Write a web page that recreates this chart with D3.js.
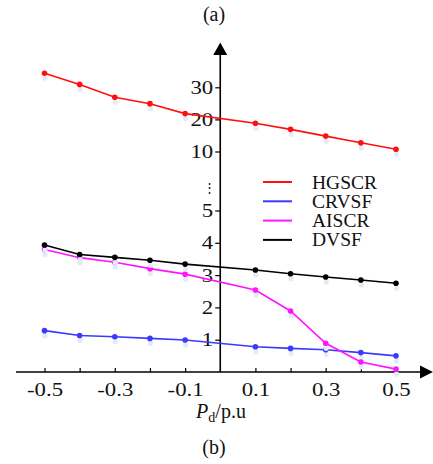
<!doctype html>
<html lang="en">
<head>
<meta charset="utf-8">
<title>Pd chart</title>
<style>
  body { margin: 0; background: #fff; }
  svg { display: block; }
  text { font-family: "Liberation Serif", "Times New Roman", serif; fill: #111; }
</style>
</head>
<body>
<svg id="chart" width="433" height="464"></svg>
<script src="https://d3js.org/d3.v7.min.js"></script>
<script>
// data (no point at Pd = 0)
const pd = [-0.5, -0.4, -0.3, -0.2, -0.1, 0.1, 0.2, 0.3, 0.4, 0.5];
const hgscr = [34.4, 30.9, 26.9, 24.9, 21.8, 18.8, 16.9, 14.8, 12.7, 10.7];
const crvsf = [1.28, 1.13, 1.09, 1.04, 0.99, 0.78, 0.73, 0.69, 0.60, 0.50];
const aiscr = [3.79, 3.54, 3.40, 3.20, 3.03, 2.54, 1.89, 0.89, 0.31, 0.09];
const dvsf = [3.93, 3.64, 3.55, 3.46, 3.34, 3.16, 3.04, 2.94, 2.85, 2.75];

const seriesNames = ['HGSCR', 'CRVSF', 'AISCR', 'DVSF'];
const seriesColors = ['#ff1010', '#3a3aff', '#ff14ff', '#000000'];
const seriesValues = [hgscr, crvsf, aiscr, dvsf];

const yTicks = [1, 2, 3, 4, 5, 10, 20, 30];
const xTicks = [-0.5, -0.4, -0.3, -0.2, -0.1, 0.1, 0.2, 0.3, 0.4, 0.5];
const xLabels = ['-0.5', '-0.3', '-0.1', '0.1', '0.3', '0.5'];

const svg = d3.select('#chart');

const x = d3.scaleLinear().domain([-0.5, 0.5]).range([44.5, 396]);
// broken axis: 0..5 below the break, 10..30 above it
const y = d3.scaleLinear().domain([0, 5, 10, 30]).range([372, 210.5, 151.5, 87.3]);

const x0 = x(0);
const y0 = y(0);

// x axis ticks + labels (plain hyphen as minus, like the original)
const xAxis = svg.append('g')
  .attr('transform', `translate(0 ${y0})`)
  .call(d3.axisBottom(x)
    .tickValues(xTicks)
    .tickSize(-4)
    .tickPadding(11)
    .tickFormat(d => {
      const s = d.toFixed(1);
      return xLabels.includes(s) ? s : '';
    }));
xAxis.select('.domain').remove();
xAxis.selectAll('line').attr('stroke', '#000').attr('stroke-width', 1.2);
xAxis.selectAll('text')
  .attr('font-family', '"Liberation Serif", serif')
  .attr('font-size', 19)
  .attr('fill', '#111')
  .attr('transform', 'scale(1.2,1)');

// y axis ticks + labels
const yAxis = svg.append('g')
  .attr('transform', `translate(${x0} 0)`)
  .call(d3.axisLeft(y).tickValues(yTicks).tickSize(5).tickPadding(5));
yAxis.select('.domain').remove();
yAxis.selectAll('line').attr('stroke', '#000').attr('stroke-width', 1.2);
yAxis.selectAll('text')
  .attr('font-family', '"Liberation Serif", serif')
  .attr('font-size', 19)
  .attr('fill', '#111')
  .attr('x', 0)
  .attr('transform', 'translate(-7,0) scale(1.2,1)');

// axis break marker
svg.append('text')
  .attr('x', x0 - 11)
  .attr('y', 192)
  .attr('text-anchor', 'middle')
  .attr('font-size', 13)
  .text('⋮');

// axis lines with arrows
svg.append('line')
  .attr('x1', 16).attr('x2', 422)
  .attr('y1', y0).attr('y2', y0)
  .attr('stroke', '#000').attr('stroke-width', 1.6);
svg.append('path')
  .attr('d', `M433,${y0} L420,${y0 - 6.5} L420,${y0 + 6.5} Z`)
  .attr('fill', '#000');
svg.append('line')
  .attr('x1', x0).attr('x2', x0)
  .attr('y1', y0).attr('y2', 53)
  .attr('stroke', '#000').attr('stroke-width', 1.6);
svg.append('path')
  .attr('d', `M${x0},42.5 L${x0 - 7},55 L${x0 + 7},55 Z`)
  .attr('fill', '#000');

// series
const line = d3.line()
  .x((d, i) => x(pd[i]))
  .y(d => y(d));

seriesValues.forEach((vals, k) => {
  const g = svg.append('g');
  // faint marker shadows
  g.selectAll('circle.sh')
    .data(vals)
    .join('circle')
    .attr('class', 'sh')
    .attr('cx', (d, i) => x(pd[i]) + 0.5)
    .attr('cy', d => y(d) + 5)
    .attr('r', 2.6)
    .attr('fill', '#e4ebf7');
  g.append('path')
    .datum(vals)
    .attr('fill', 'none')
    .attr('stroke', seriesColors[k])
    .attr('stroke-width', 1.6)
    .attr('d', line);
  g.selectAll('circle.pt')
    .data(vals)
    .join('circle')
    .attr('class', 'pt')
    .attr('cx', (d, i) => x(pd[i]))
    .attr('cy', d => y(d))
    .attr('r', 2.8)
    .attr('fill', seriesColors[k]);
});

// legend
const legend = svg.append('g').attr('transform', 'translate(263 182)');
seriesNames.forEach((name, k) => {
  const row = legend.append('g').attr('transform', `translate(0 ${k * 19.3})`);
  row.append('line')
    .attr('x1', 0).attr('x2', 29)
    .attr('stroke', seriesColors[k])
    .attr('stroke-width', 2);
  row.append('text')
    .attr('x', 49)
    .attr('y', 6.5)
    .attr('font-size', 19.5)
    .text(name);
});

// x axis title
const xt = svg.append('text')
  .attr('x', 221)
  .attr('y', 418)
  .attr('text-anchor', 'middle')
  .attr('font-size', 20);
xt.append('tspan').attr('font-style', 'italic').text('P');
xt.append('tspan').attr('font-size', 14).attr('dy', 4).text('d');
xt.append('tspan').attr('dy', -4).text('/p.u');

// panel captions
svg.append('text')
  .attr('x', 214).attr('y', 21)
  .attr('text-anchor', 'middle')
  .attr('font-size', 20)
  .text('(a)');
svg.append('text')
  .attr('x', 214).attr('y', 454)
  .attr('text-anchor', 'middle')
  .attr('font-size', 20)
  .text('(b)');
</script>
</body>
</html>
